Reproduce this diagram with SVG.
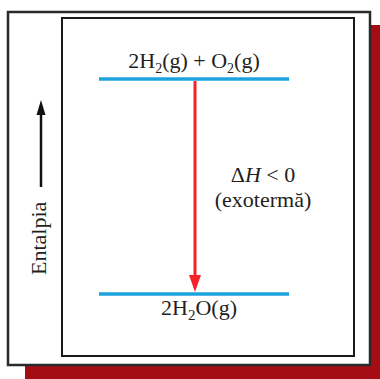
<svg xmlns="http://www.w3.org/2000/svg" width="380" height="379" viewBox="0 0 380 379">
  <style>
    .t { font-family: "Liberation Serif", "Times New Roman", serif; font-size: 22px; fill: #231f20; }
    .lvl { stroke: #1ca3de; stroke-width: 3.5; }
  </style>
  <rect width="380" height="379" fill="#ffffff"/>
  <g id="frame">
    <rect x="25" y="25" width="355" height="354" fill="#a50d14"/>
    <rect x="8" y="12" width="362" height="353" fill="#ffffff" stroke="#2a2a2a" stroke-width="2.5"/>
    <rect x="62" y="18" width="292" height="338" fill="#ffffff" stroke="#1a1a1a" stroke-width="2"/>
  </g>
  <g id="axis">
    <line x1="41" y1="187" x2="41" y2="112" stroke="#111" stroke-width="2.5"/>
    <polygon points="36.5,115 45.5,115 41,100" fill="#111"/>
    <text class="t" font-size="24" transform="translate(46,275) rotate(-90)">Entalpia</text>
  </g>
  <g id="reactants">
    <line class="lvl" x1="99" y1="79" x2="289" y2="79"/>
    <text class="t" x="194" y="68" font-size="21" text-anchor="middle">2H<tspan font-size="14" dy="5">2</tspan><tspan dy="-5">(g) + O</tspan><tspan font-size="14" dy="5">2</tspan><tspan dy="-5">(g)</tspan></text>
  </g>
  <g id="products">
    <line class="lvl" x1="99" y1="294" x2="289" y2="294"/>
    <text class="t" x="199" y="315" text-anchor="middle">2H<tspan font-size="15" dy="5">2</tspan><tspan dy="-5">O(g)</tspan></text>
  </g>
  <g id="connectors">
    <line x1="195" y1="81" x2="195" y2="278" stroke="#f5222a" stroke-width="3"/>
    <polygon points="189,275 201,275 195,292" fill="#f5222a"/>
  </g>
  <g id="label">
    <text class="t" x="263" y="182" text-anchor="middle">Δ<tspan font-style="italic">H</tspan> &lt; 0</text>
    <text class="t" x="263" y="207" text-anchor="middle">(exotermă)</text>
  </g>
</svg>
